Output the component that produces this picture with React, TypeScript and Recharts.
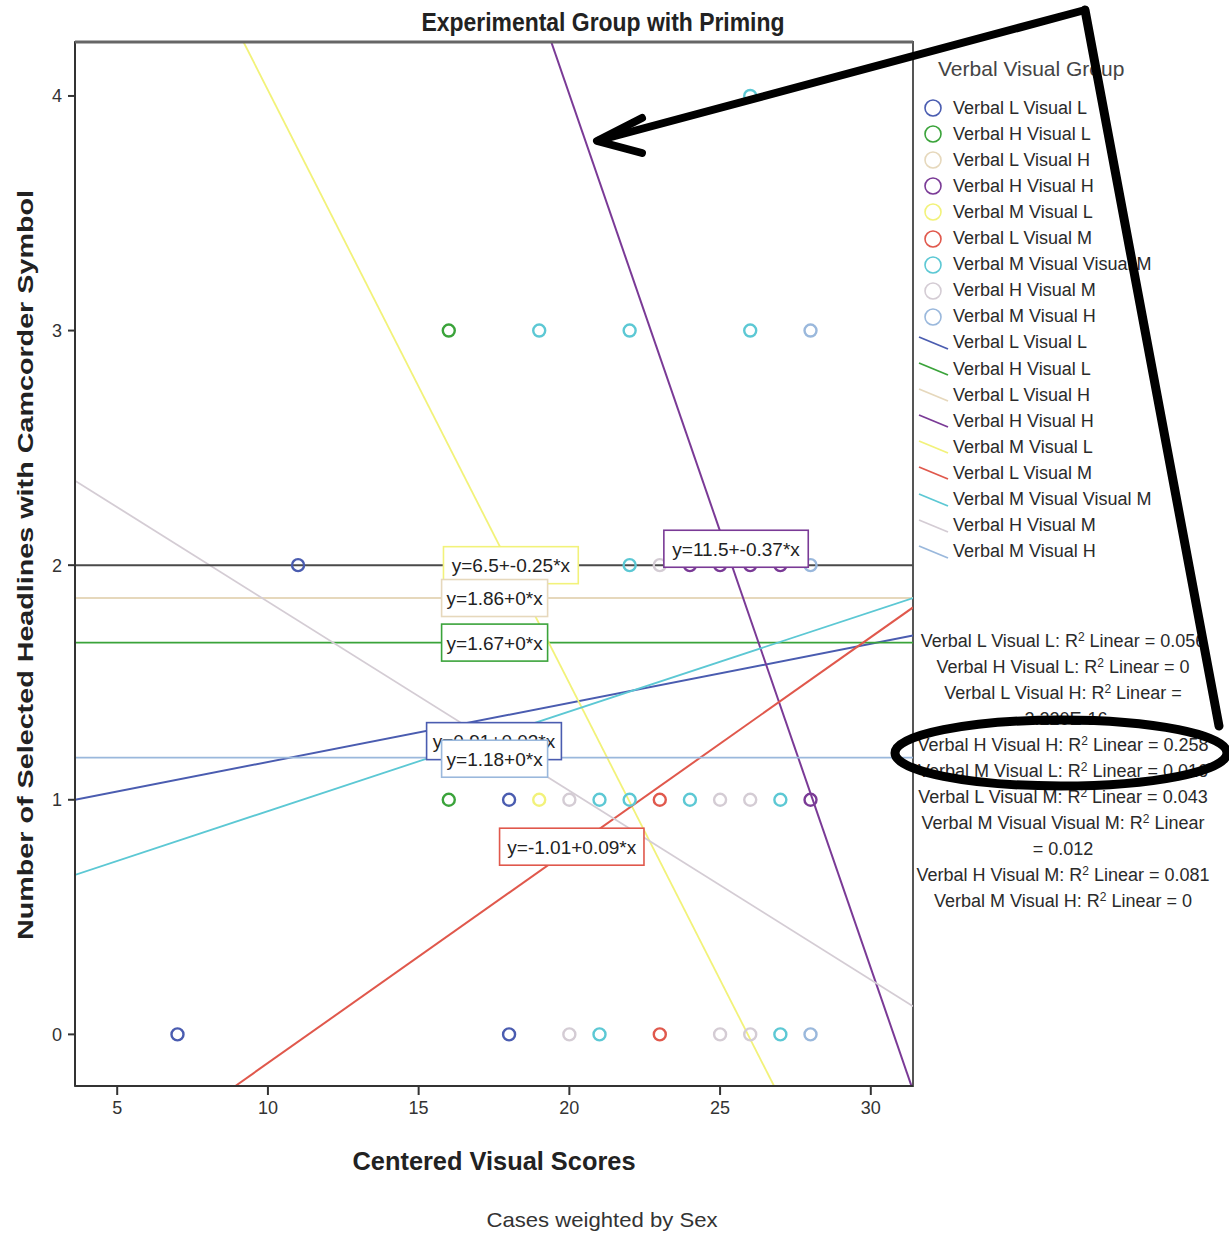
import React from "react";
import { ScatterChart, Scatter, XAxis, YAxis, ReferenceLine, ReferenceDot, ReferenceArea, Legend } from "recharts";

const SANS = "'Liberation Sans', Arial, sans-serif";
const NARROW = "'Liberation Sans Narrow', 'Liberation Sans', Arial, sans-serif";

const groups = [
  "Verbal L Visual L",
  "Verbal H Visual L",
  "Verbal L Visual H",
  "Verbal H Visual H",
  "Verbal M Visual L",
  "Verbal L Visual M",
  "Verbal M Visual Visual M",
  "Verbal H Visual M",
  "Verbal M Visual H",
];
const groupColors = ["#4a5cb0", "#3aa33a", "#e6d8bc", "#7a3a96", "#f2f27a", "#e0584c", "#5cc8d4", "#d4ccd4", "#9ab8dc"];

// scatter points: centered visual score, headline count, group index
const pointX = [11, 18, 7, 18, 16, 16, 28, 24, 25, 26, 27, 19, 23, 23, 26, 19, 22, 26, 22, 21, 22, 24, 27, 21, 27, 20, 25, 26, 20, 25, 26, 23, 28, 28, 28];
const pointY = [2, 1, 0, 0, 3, 1, 1, 2, 2, 2, 2, 1, 1, 0, 4, 3, 3, 3, 2, 1, 1, 1, 1, 0, 0, 1, 1, 1, 0, 0, 0, 2, 3, 2, 0];
const pointGroup = [0, 0, 0, 0, 1, 1, 3, 3, 3, 3, 3, 4, 5, 5, 6, 6, 6, 6, 6, 6, 6, 6, 6, 6, 6, 7, 7, 7, 7, 7, 7, 7, 8, 8, 8];

// fit line end points (as seen at the plot edges)
const fitX1 = [3.6, 3.6, 3.6, 19.4, 9.19, 8.92, 3.6, 3.6, 3.6];
const fitY1 = [1.0, 1.67, 1.86, 4.23, 4.23, -0.22, 0.68, 2.36, 1.18];
const fitX2 = [31.4, 31.4, 31.4, 31.35, 26.79, 31.4, 31.4, 31.4, 31.4];
const fitY2 = [1.7, 1.67, 1.86, -0.22, -0.22, 1.82, 1.86, 0.12, 1.18];

// equation labels
const eqText = ["y=6.5+-0.25*x", "y=11.5+-0.37*x", "y=1.86+0*x", "y=1.67+0*x", "y=0.91+0.03*x", "y=1.18+0*x", "y=-1.01+0.09*x"];
const eqGroup = [4, 3, 2, 1, 0, 8, 5];
const eqX = [18.06, 25.53, 17.52, 17.52, 17.5, 17.52, 20.08];
const eqY = [2.0, 2.07, 1.86, 1.67, 1.25, 1.175, 0.8];

const r2Values = ["0.056", "0", "-2.220E-16", "0.258", "0.016", "0.043", "0.012", "0.081", "0"];

const xTicks = [5, 10, 15, 20, 25, 30];
const yTicks = [0, 1, 2, 3, 4];
const xDomain = [3.6, 31.4];
const yDomain = [-0.22, 4.23];

const seriesData = groups.map((_, g) =>
  pointX.map((x, i) => ({ x, y: pointY[i], g: pointGroup[i] })).filter((p) => p.g === g)
);

const ring = (color: string) => (p: any) => (
  <circle cx={p.cx} cy={p.cy} r={6} fill="none" stroke={color} strokeWidth={2.4} />
);

const eqBox = (text: string, color: string) => (p: any) => {
  const w = text.length * 9.6 + 10;
  const h = 37;
  return (
    <g>
      <rect x={p.cx - w / 2} y={p.cy - h / 2} width={w} height={h} fill="#ffffff" stroke={color} strokeWidth={1.6} />
      <text x={p.cx} y={p.cy + 7} textAnchor="middle" fontFamily={SANS} fontSize={19} fill="#222">
        {text}
      </text>
    </g>
  );
};

function LegendBox() {
  return (
    <div style={{ position: "relative", width: 314, height: 870, fontFamily: SANS, color: "#2a2a2a" }}>
      <div style={{ position: "absolute", left: 23, top: 2, fontSize: 21, color: "#444" }}>Verbal Visual Group</div>
      {[0, 1].map((kind) =>
        groups.map((g, i) => {
          const row = kind * groups.length + i;
          return (
            <div key={`${kind}-${i}`} style={{ position: "absolute", left: 0, top: 41 + row * 26.1, height: 24, display: "flex", alignItems: "center" }}>
              <svg width={38} height={24}>
                {kind === 0 ? (
                  <circle cx={18} cy={12} r={8} fill="none" stroke={groupColors[i]} strokeWidth={1.6} />
                ) : (
                  <line x1={4} y1={6} x2={33} y2={18} stroke={groupColors[i]} strokeWidth={1.8} />
                )}
              </svg>
              <span style={{ fontSize: 18, whiteSpace: "nowrap" }}>{g}</span>
            </div>
          );
        })
      )}
      <div style={{ position: "absolute", left: 0, top: 573, width: 296, textAlign: "center", fontSize: 18, lineHeight: "26px" }}>
        {groups.map((g, i) => (
          <div key={g}>
            {g}: R<span style={{ fontSize: 12, lineHeight: "12px", position: "relative", top: -6 }}>2</span> Linear = {r2Values[i]}
          </div>
        ))}
      </div>
    </div>
  );
}

export default function App() {
  return (
    <div style={{ position: "absolute", left: 0, top: 0, width: 1229, height: 1234, background: "#fff" }}>
      <ScatterChart width={1229} height={1234} margin={{ top: 42, right: 316, left: 0, bottom: 0 }}>
        <XAxis
          type="number"
          dataKey="x"
          domain={xDomain}
          ticks={xTicks}
          allowDataOverflow
          height={148}
          tickSize={9}
          tickMargin={6}
          stroke="#333"
          strokeWidth={2}
          tick={{ fontSize: 18, fontFamily: NARROW, fill: "#333" }}
          label={(p: any) => (
            <text x={494} y={1170} textAnchor="middle" fontFamily={NARROW} fontWeight="bold" fontSize={26} fill="#222" textLength={283} lengthAdjust="spacingAndGlyphs">
              Centered Visual Scores
            </text>
          )}
        />
        <YAxis
          type="number"
          dataKey="y"
          domain={yDomain}
          ticks={yTicks}
          allowDataOverflow
          width={75}
          tickSize={7}
          tickMargin={6}
          stroke="#333"
          strokeWidth={2}
          tick={{ fontSize: 18, fontFamily: NARROW, fill: "#333" }}
          label={(p: any) => (
            <text x={0} y={0} transform="translate(33 565) rotate(-90)" textAnchor="middle" fontFamily={SANS} fontWeight="bold" fontSize={22} fill="#222" textLength={750} lengthAdjust="spacingAndGlyphs">
              Number of Selected Headlines with Camcorder Symbol
            </text>
          )}
        />
        <ReferenceArea x1={xDomain[0]} x2={xDomain[1]} y1={yDomain[0]} y2={yDomain[1]} fill="none" stroke="#555" strokeWidth={2} ifOverflow="visible" />
        {groups.map((g, i) => (
          <ReferenceLine
            key={`fit-${g}`}
            segment={[{ x: fitX1[i], y: fitY1[i] }, { x: fitX2[i], y: fitY2[i] }]}
            stroke={groupColors[i]}
            strokeWidth={i === 3 || i === 5 || i === 0 ? 2 : 1.8}
            ifOverflow="hidden"
          />
        ))}
        {groups.map((g, i) => (
          <Scatter key={`pts-${g}`} name={g} data={seriesData[i]} shape={ring(groupColors[i])} isAnimationActive={false} />
        ))}
        {eqText.map((t, k) => (
          <ReferenceDot key={t} x={eqX[k]} y={eqY[k]} r={0} shape={eqBox(t, groupColors[eqGroup[k]])} />
        ))}
        <ReferenceLine y={2} stroke="#4a4a4a" strokeWidth={2} />
        <Legend layout="vertical" align="center" verticalAlign="middle" content={() => <LegendBox />} wrapperStyle={{ left: 915, top: 55, width: 314, height: 870 }} />
      </ScatterChart>
      <svg width={1229} height={1234} style={{ position: "absolute", left: 0, top: 0, pointerEvents: "none" }}>
        <line x1={75} y1={42} x2={913} y2={42} stroke="#666" strokeWidth={3} />
        <text x={603} y={31} textAnchor="middle" fontFamily={NARROW} fontWeight="bold" fontSize={25} fill="#222" textLength={363} lengthAdjust="spacingAndGlyphs">
          Experimental Group with Priming
        </text>
        <text x={602} y={1227} textAnchor="middle" fontFamily={NARROW} fontSize={21} fill="#333" textLength={231} lengthAdjust="spacingAndGlyphs">
          Cases weighted by Sex
        </text>
        <g stroke="#000" fill="none" strokeLinecap="round" strokeLinejoin="round">
          <line x1={1085} y1={10} x2={600} y2={140} strokeWidth={8} />
          <polyline points="642,118 597,141 642,153" strokeWidth={8} />
          <line x1={1085} y1={10} x2={1219} y2={726} strokeWidth={9} />
          <ellipse cx={1061} cy={753} rx={166} ry={33} strokeWidth={9} />
        </g>
      </svg>
    </div>
  );
}
